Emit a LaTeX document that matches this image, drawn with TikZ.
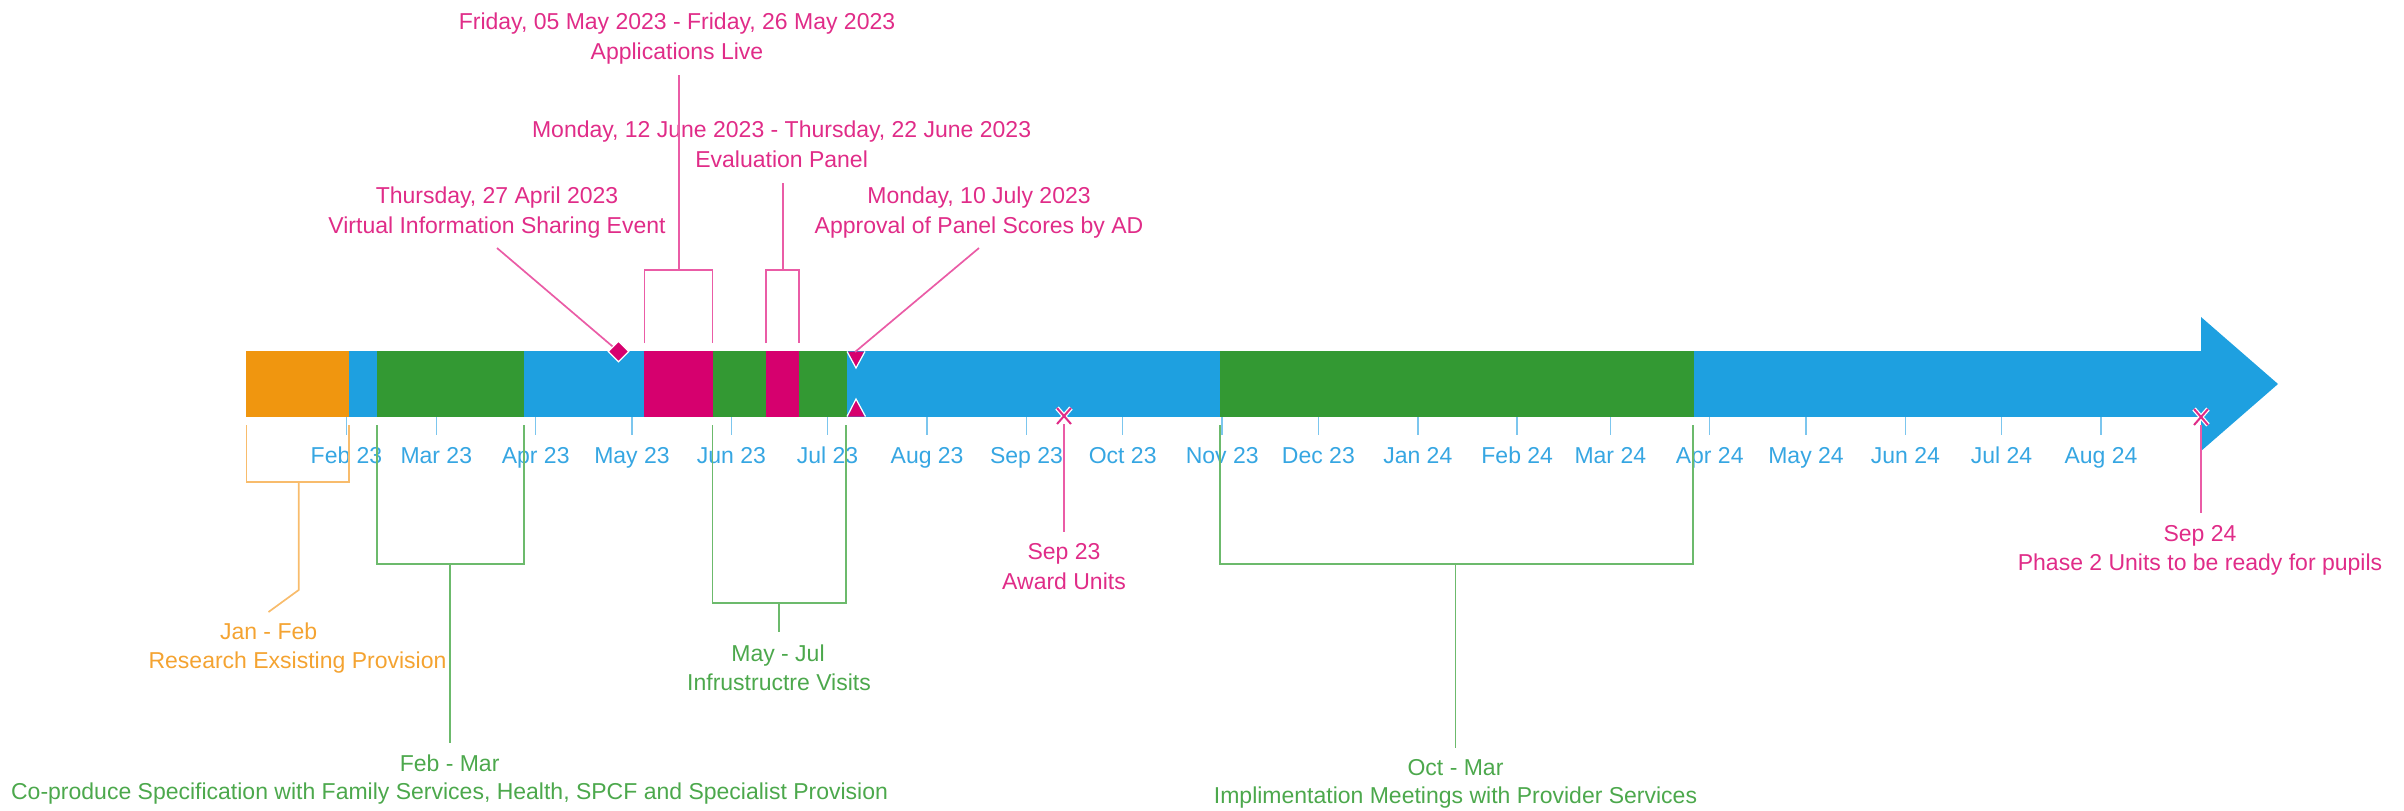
\documentclass[tikz,border=0pt]{standalone}
\usepackage{fontspec}
\setmainfont{Liberation Sans}
\usetikzlibrary{shapes.geometric}
\definecolor{barblue}{HTML}{1EA0E0}
\definecolor{bargreen}{HTML}{339933}
\definecolor{barorange}{HTML}{F0960F}
\definecolor{barmag}{HTML}{D6006E}
\definecolor{txtpink}{HTML}{E02C88}
\definecolor{linepink}{HTML}{EA5CA6}
\definecolor{txtblue}{HTML}{36A6E2}
\definecolor{tickblue}{HTML}{7CC6EE}
\definecolor{txtgreen}{HTML}{4CA84C}
\definecolor{linegreen}{HTML}{6CBA6C}
\definecolor{txtorange}{HTML}{F4A331}
\definecolor{lineorange}{HTML}{F8BC6C}
\begin{document}
\begin{tikzpicture}[x=1pt,y=-1pt,
  lbl/.style={anchor=base,inner sep=0pt,font=\fontsize{23}{28}\selectfont},
  pinktxt/.style={lbl,text=txtpink},
  bluetxt/.style={lbl,text=txtblue},
  greentxt/.style={lbl,text=txtgreen},
  orangetxt/.style={lbl,text=txtorange},
  pinkln/.style={draw=linepink,line width=1.7pt},
  greenln/.style={draw=linegreen,line width=1.7pt},
  orangeln/.style={draw=lineorange,line width=1.7pt},
  tickln/.style={draw=tickblue,line width=1.5pt},
  halo/.style={draw=white,line width=4.5pt},
  xmark/.style={draw=txtpink,line width=2pt}
]
\useasboundingbox (0,0) rectangle (2404,811);
% ---- timeline bar ----
\fill[barblue] (246,351) rectangle (2202,417);
\fill[barblue] (2201,317) -- (2278,384) -- (2201,451) -- cycle;
\fill[barorange] (246,351) rectangle (349,417);
\fill[bargreen] (377,351) rectangle (524,417);
\fill[barmag] (644,351) rectangle (713,417);
\fill[bargreen] (713,351) rectangle (766,417);
\fill[barmag] (766,351) rectangle (799,417);
\fill[bargreen] (799,351) rectangle (847,417);
\fill[bargreen] (1220,351) rectangle (1694,417);
% ---- month ticks ----
\foreach \x/\t [count=\i] in {346.5/Feb 23,436.3/Mar 23,535.7/Apr 23,632/May 23,731.4/Jun 23,827.6/Jul 23,927.1/Aug 23,1026.5/Sep 23,1122.7/Oct 23,1222.2/Nov 23,1318.4/Dec 23,1417.8/Jan 24,1517.2/Feb 24,1610.3/Mar 24,1709.7/Apr 24,1806/May 24,1905.4/Jun 24,2001.6/Jul 24,2101/Aug 24}{
  \draw[tickln] (\x,417) -- (\x,435);
  \node[bluetxt] (tick\i) at (\x,463.3) {\t};
}
% ---- markers ----
\node[diamond,fill=barmag,draw=white,line width=1.2pt,minimum width=21pt,minimum height=21pt,inner sep=0pt] (evDia) at (618.5,351.5) {};
\fill[barmag] (848,351.5) -- (864,351.5) -- (856,367) -- cycle;
\draw[white,line width=1.2pt] (847,351.5) -- (856,368) -- (865,351.5);
\fill[barmag] (848,416.5) -- (864.5,416.5) -- (856,400) -- cycle;
\draw[white,line width=1.2pt] (847,416.5) -- (856,399) -- (865.5,416.5);
\coordinate (apprTri) at (855,352);
\coordinate (awardX) at (1064,424);
\draw[halo] (1057,408) -- (1071,424) (1071,408) -- (1057,424);
\draw[xmark] (1057,408) -- (1071,424) (1071,408) -- (1057,424);
\coordinate (phaseX) at (2201,425);
\draw[halo] (2194,409) -- (2208,425) (2208,409) -- (2194,425);
\draw[xmark] (2194,409) -- (2208,425) (2208,409) -- (2194,425);
% ---- labels ----
\node[pinktxt] (appsA) at (677,29.2) {Friday, 05 May 2023 - Friday, 26 May 2023};
\node[pinktxt] (appsB) at (677,59.8) {Applications Live};
\node[pinktxt] (evalA) at (781.6,137.2) {Monday, 12 June 2023 - Thursday, 22 June 2023};
\node[pinktxt] (evalB) at (781.6,167.2) {Evaluation Panel};
\node[pinktxt] (virtA) at (497,203.5) {Thursday, 27 April 2023};
\node[pinktxt] (virtB) at (497,233.5) {Virtual Information Sharing Event};
\node[pinktxt] (apprA) at (979,203.5) {Monday, 10 July 2023};
\node[pinktxt] (apprB) at (979,233.5) {Approval of Panel Scores by AD};
\node[pinktxt] (awdA) at (1064,559.3) {Sep 23};
\node[pinktxt] (awdB) at (1064,589.3) {Award Units};
\node[pinktxt] (phA) at (2200,541.7) {Sep 24};
\node[pinktxt] (phB) at (2200,570.7) {Phase 2 Units to be ready for pupils};
\node[orangetxt] (resA) at (268.6,639) {Jan - Feb};
\node[orangetxt] (resB) at (297.5,668) {Research Exsisting Provision};
\node[greentxt] (copA) at (449.6,771) {Feb - Mar};
\node[greentxt] (copB) at (449.6,799) {Co-produce Specification with Family Services, Health, SPCF and Specialist Provision};
\node[greentxt] (visA) at (778,661) {May - Jul};
\node[greentxt] (visB) at (779,690) {Infrustructre Visits};
\node[greentxt] (impA) at (1455.5,775) {Oct - Mar};
\node[greentxt] (impB) at (1455.5,803) {Implimentation Meetings with Provider Services};
% ---- connector coordinates ----
\coordinate (appsS) at (679.3,75);   \coordinate (appsM) at (679.3,270);
\coordinate (appsL) at (644.5,343);  \coordinate (appsLT) at (644.5,270);
\coordinate (appsR) at (712.5,343);  \coordinate (appsRT) at (712.5,270);
\coordinate (evalS) at (783.3,183);  \coordinate (evalM) at (783.3,270);
\coordinate (evalL) at (766,343);    \coordinate (evalLT) at (766,270);
\coordinate (evalR) at (799,343);    \coordinate (evalRT) at (799,270);
\coordinate (virtS) at (497,248);
\coordinate (apprS) at (979,248);
\coordinate (awdS) at (1064,532);
\coordinate (phS) at (2201,513);
\coordinate (resL) at (246.5,425);   \coordinate (resLB) at (246.5,482);
\coordinate (resR) at (349,425);     \coordinate (resRB) at (349,482);
\coordinate (resM) at (298.7,482);   \coordinate (resK) at (298.7,590);
\coordinate (resE) at (268.5,612);
\coordinate (copL) at (377,425);     \coordinate (copLB) at (377,564);
\coordinate (copR) at (524,425);     \coordinate (copRB) at (524,564);
\coordinate (copM) at (450,564);     \coordinate (copE) at (450,743);
\coordinate (visL) at (712.4,425);   \coordinate (visLB) at (712.4,603);
\coordinate (visR) at (846.3,425);   \coordinate (visRB) at (846.3,603);
\coordinate (visM) at (779,603);     \coordinate (visE) at (779,632);
\coordinate (impL) at (1220,425);    \coordinate (impLB) at (1220,564);
\coordinate (impR) at (1693,425);    \coordinate (impRB) at (1693,564);
\coordinate (impM) at (1455.6,564);  \coordinate (impE) at (1455.6,748);
% ---- connectors ----
\draw[pinkln] (appsS) -- (appsM);
\draw[pinkln] (appsL) -- (appsLT) -- (appsRT) -- (appsR);
\draw[pinkln] (evalS) -- (evalM);
\draw[pinkln] (evalL) -- (evalLT) -- (evalRT) -- (evalR);
\draw[pinkln] (virtS) -- (evDia);
\draw[pinkln] (apprS) -- (apprTri);
\draw[pinkln] (awardX) -- (awdS);
\draw[pinkln] (phaseX) -- (phS);
\draw[orangeln] (resL) -- (resLB) -- (resRB) -- (resR);
\draw[orangeln] (resM) -- (resK) -- (resE);
\draw[greenln] (copL) -- (copLB) -- (copRB) -- (copR);
\draw[greenln] (copM) -- (copE);
\draw[greenln] (visL) -- (visLB) -- (visRB) -- (visR);
\draw[greenln] (visM) -- (visE);
\draw[greenln] (impL) -- (impLB) -- (impRB) -- (impR);
\draw[greenln] (impM) -- (impE);
\end{tikzpicture}
\end{document}
